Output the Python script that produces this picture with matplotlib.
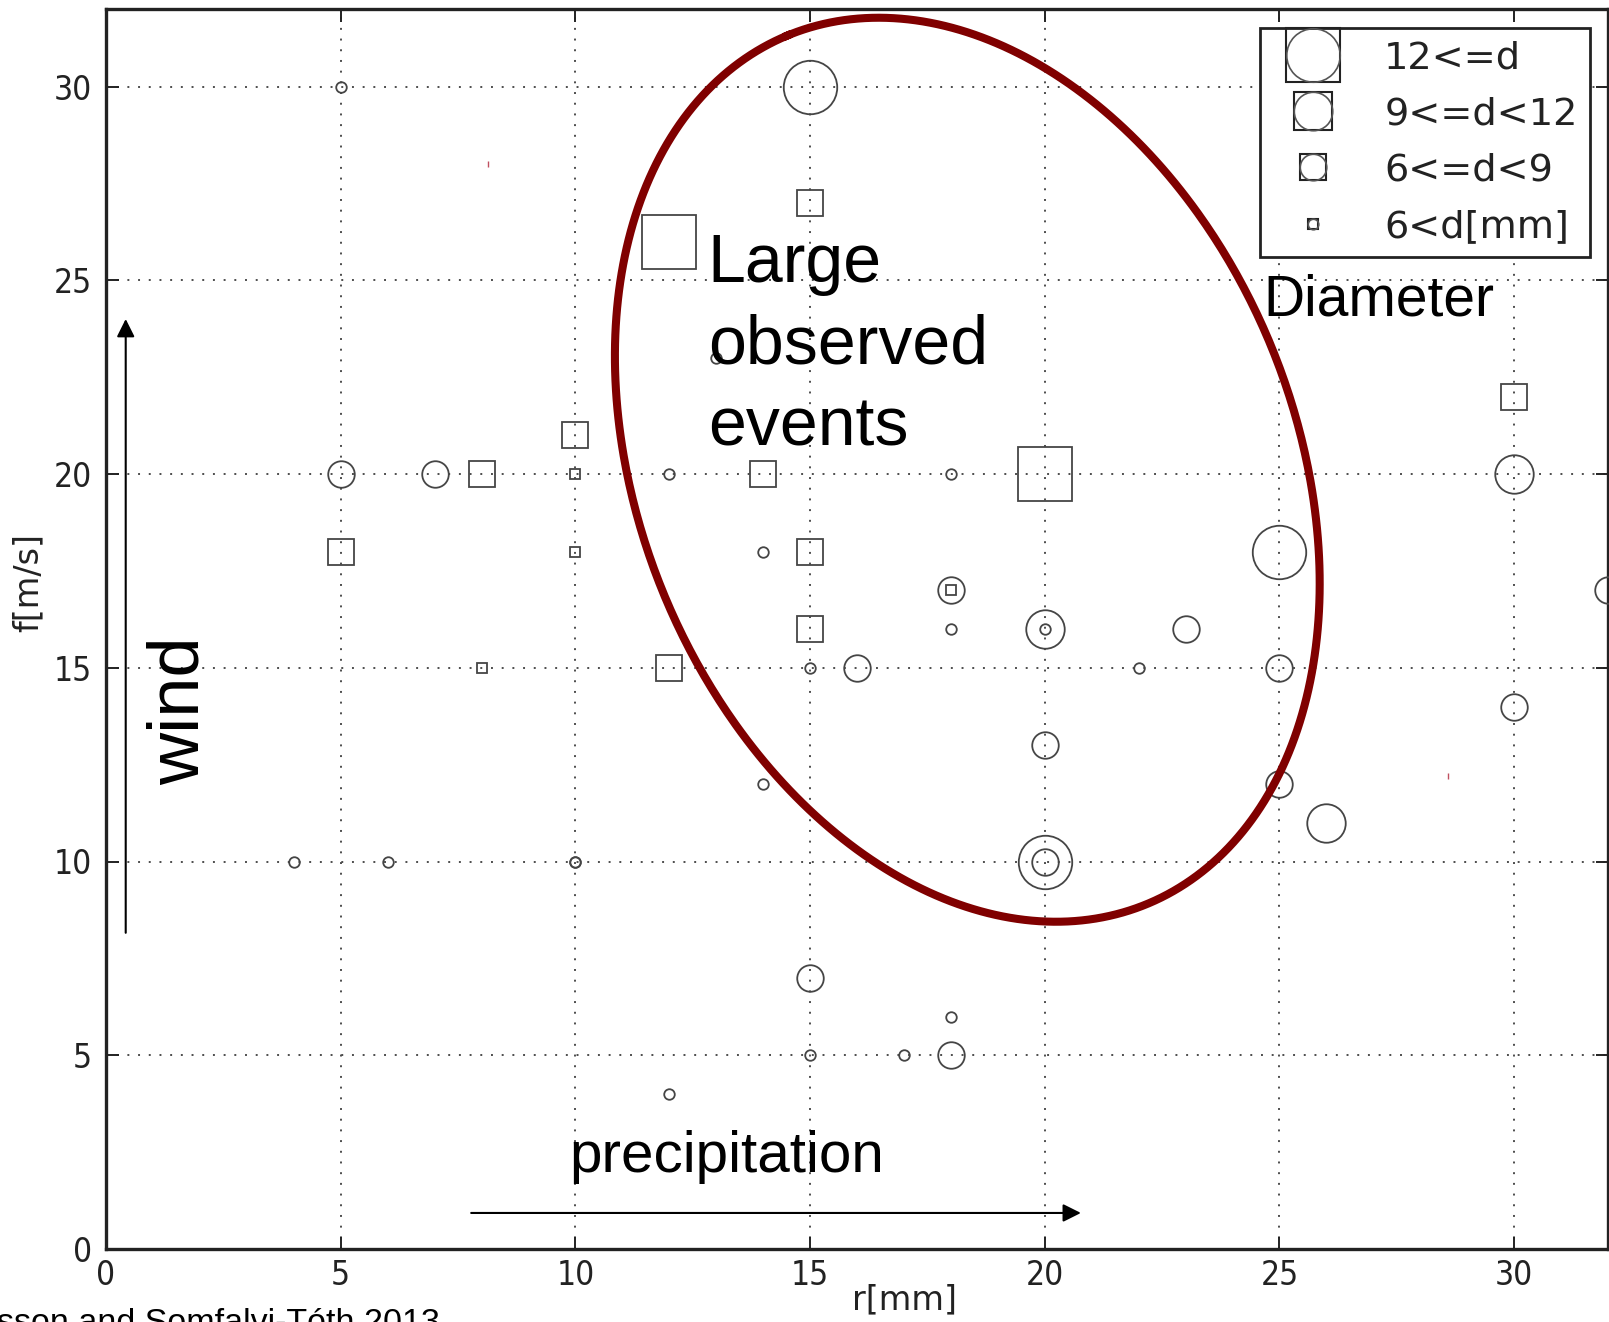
import numpy as np
import matplotlib
matplotlib.use("Agg")
import matplotlib.pyplot as plt
from matplotlib.lines import Line2D
from matplotlib.legend_handler import HandlerTuple

# ---------------- data ----------------
# size class: 0 -> d<6, 1 -> 6<=d<9, 2 -> 9<=d<12, 3 -> 12<=d
circle_x = [5, 15, 13, 5, 7, 12, 18, 30, 14, 25, 18, 32, 18, 20, 20, 23, 15, 16,
            22, 25, 30, 20, 14, 25, 26, 4, 6, 10, 10, 20, 20, 15, 18, 15, 17, 18, 12]
circle_y = [30, 30, 23, 20, 20, 20, 20, 20, 18, 18, 17, 17, 16, 16, 16, 16, 15, 15,
            15, 15, 14, 13, 12, 12, 11, 10, 10, 10, 10, 10, 10, 7, 6, 5, 5, 5, 4]
circle_cls = [0, 3, 0, 1, 1, 0, 0, 2, 0, 3, 1, 1, 0, 2, 0, 1, 0, 1,
              0, 1, 1, 1, 0, 1, 2, 0, 0, 0, 0, 3, 1, 1, 0, 0, 0, 1, 0]

square_x = [15, 12, 30, 10, 8, 10, 14, 20, 5, 10, 15, 18, 15, 12, 8]
square_y = [27, 26, 22, 21, 20, 20, 20, 20, 18, 18, 18, 17, 16, 15, 15]
square_cls = [1, 3, 1, 1, 1, 0, 1, 3, 1, 0, 1, 0, 1, 1, 0]

speck_x = [8.14, 28.6]
speck_y = [28.0, 12.2]

size_labels = ["12<=d", "9<=d<12", "6<=d<9", "6<d[mm]"]
legend_cls = [3, 2, 1, 0]
x_ticks = [0, 5, 10, 15, 20, 25, 30]
y_ticks = [0, 5, 10, 15, 20, 25, 30]

# ---------------- figure ----------------
W, H, DPI = 1609, 1322, 100
fig = plt.figure(figsize=(W / DPI, H / DPI), dpi=DPI)
ax_pos = [106 / W, 73 / H, 1502 / W, 1240 / H]
ax = fig.add_axes(ax_pos)
ax.set_xlim(0, 32)
ax.set_ylim(0, 32)

MS = {0: 7.6, 1: 19.1, 2: 27.7, 3: 38.5}   # marker sizes (pt) per class
edge = "#454545"

ax.grid(True, linestyle=(0, (1, 4.5)), color="#4d4d4d", lw=1.4, zorder=0)
ax.set_axisbelow(True)

for x, y, c in zip(circle_x, circle_y, circle_cls):
    ax.plot([x], [y], ls="none", marker="o", ms=MS[c], mfc="none", mec=edge,
            mew=1.3, clip_on=False, zorder=3)
for x, y, c in zip(square_x, square_y, square_cls):
    ax.plot([x], [y], ls="none", marker="s", ms=MS[c], mfc="none", mec=edge,
            mew=1.3, clip_on=False, zorder=3)
ax.plot(speck_x, speck_y, ls="none", marker="|", ms=5, mec="#c05060", mew=1.0, zorder=3)

# ticks / spines
ax.set_xticks(x_ticks)
ax.set_yticks(y_ticks)
tick_font = dict(family="DejaVu Sans", size=24, stretch="condensed")
ax.set_xticklabels([str(t) for t in x_ticks], fontdict=tick_font, color="#222222")
ax.set_yticklabels([str(t) for t in y_ticks], fontdict=tick_font, color="#222222")
ax.tick_params(axis="both", which="major", direction="in", length=9, width=1.4,
               top=True, right=True, colors="#222222")
ax.tick_params(axis="x", pad=7)
ax.tick_params(axis="y", pad=10)
for s in ax.spines.values():
    s.set_linewidth(2.4)
    s.set_color("#222222")

# axis labels placed as in reference
fig.text(904 / W, 1 - 1300 / H, "r[mm]", ha="center", va="center",
         family="DejaVu Sans", fontsize=24, color="#222222")
fig.text(28 / W, 1 - 582 / H, "f[m/s]", ha="center", va="center", rotation=90,
         family="DejaVu Sans", fontsize=24, color="#222222")

# legend (square and circle overlaid for each size class)
handles = []
for c in legend_cls:
    sq = Line2D([], [], ls="none", marker="s", ms=MS[c], mfc="none", mec="#222222", mew=1.5)
    ci = Line2D([], [], ls="none", marker="o", ms=MS[c], mfc="none", mec="#555555", mew=1.2)
    handles.append((sq, ci))
leg = ax.legend(handles, size_labels, handler_map={tuple: HandlerTuple(ndivide=1)},
                loc="upper right", bbox_to_anchor=(1590 / W, 1 - 28 / H),
                bbox_transform=fig.transFigure, borderaxespad=0,
                prop=dict(family="DejaVu Sans", size=27.5), handlelength=2.13,
                handletextpad=0.81, labelspacing=0.53, borderpad=0.32,
                fancybox=False, edgecolor="#222222", framealpha=1)
leg.get_frame().set_linewidth(2.0)
for t in leg.get_texts():
    t.set_color("#222222")

# ---------------- annotations ----------------
# ellipse (defined in pixel space, converted to data)
px_x = W * ax_pos[2] / 32
px_y = H * ax_pos[3] / 32
cx, cy = 18.35, 20.11
a_px, b_px, th = 470, 328, np.deg2rad(112.5)
t = np.linspace(0, 2 * np.pi, 600)
u, v = a_px * np.cos(t), b_px * np.sin(t)
ex = cx + (u * np.cos(th) - v * np.sin(th)) / px_x
ey = cy + (u * np.sin(th) + v * np.cos(th)) / px_y
ax.plot(ex, ey, color="#800000", lw=5.8, clip_on=False, zorder=4)

ann_font = "Liberation Sans"
# multi-line text: 'baseline' aligns the last line
ax.text(12.82, 20.74, "Large\nobserved\nevents", ha="left", va="baseline",
        family=ann_font, fontsize=49, linespacing=1.35, zorder=5)
ax.text(24.66, 24.1, "Diameter", ha="left", va="baseline",
        family=ann_font, fontsize=41, zorder=5)
ax.text(9.88, 2.0, "precipitation", ha="left", va="baseline",
        family=ann_font, fontsize=42, zorder=5)
ax.text(1.57, 13.9, "wind", ha="center", va="center", rotation=90,
        family=ann_font, fontsize=52, zorder=5)

arrow = dict(arrowstyle="-|>", lw=1.5, color="black", shrinkA=0, shrinkB=0,
             mutation_scale=27)
ax.annotate("", xy=(20.77, 0.93), xytext=(7.78, 0.93), arrowprops=arrow)
ax.annotate("", xy=(0.42, 24.0), xytext=(0.42, 8.16), arrowprops=arrow)

fig.text(440 / W, 1 - 1332 / H, "sson and Somfalvi-Tóth 2013", ha="right",
         va="baseline", family=ann_font, fontsize=24.5)

fig.savefig("out.png", dpi=DPI)
